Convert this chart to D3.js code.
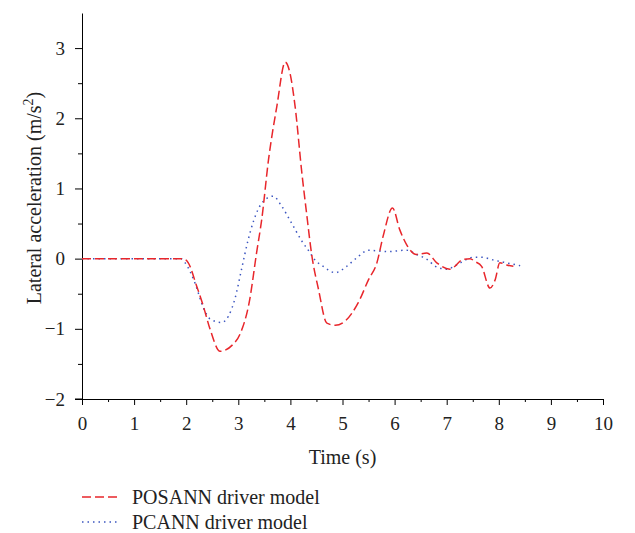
<!DOCTYPE html>
<html>
<head>
<meta charset="utf-8">
<script src="https://cdn.jsdelivr.net/npm/d3@7"></script>
<style>
  body { margin: 0; background: #fff; }
  text { font-family: "Liberation Serif", "DejaVu Serif", serif; }
</style>
</head>
<body>
<div class="chart"></div>
<script>
// time (s) and lateral acceleration (m/s^2)
var posannT = [0, 1.0, 1.94, 2.04, 2.2, 2.33, 2.46, 2.65, 2.9, 3.03, 3.22, 3.35, 3.45, 3.58, 3.74, 3.9, 3.99, 4.09, 4.22, 4.31, 4.41, 4.54, 4.7, 4.86, 5.05, 5.3, 5.5, 5.66, 5.78, 5.96, 6.1, 6.23, 6.42, 6.62, 6.81, 7.06, 7.32, 7.45, 7.54, 7.67, 7.83, 7.93, 8.02, 8.15, 8.28];
var posannV = [0, 0, 0, -0.06, -0.39, -0.68, -1.01, -1.32, -1.22, -1.08, -0.58, 0.08, 0.56, 1.41, 2.17, 2.8, 2.65, 2.17, 1.22, 0.65, 0.05, -0.44, -0.92, -0.95, -0.89, -0.63, -0.3, -0.06, 0.32, 0.72, 0.41, 0.2, 0.06, 0.08, -0.06, -0.15, -0.01, 0, -0.04, -0.11, -0.42, -0.3, -0.06, -0.09, -0.11];

var pcannT = [0, 1.0, 1.9, 1.98, 2.17, 2.33, 2.46, 2.68, 2.81, 2.94, 3.06, 3.19, 3.29, 3.45, 3.67, 3.83, 4.02, 4.22, 4.38, 4.44, 4.63, 4.86, 5.08, 5.27, 5.5, 5.85, 6.23, 6.42, 6.62, 6.81, 7.0, 7.26, 7.51, 7.67, 7.9, 8.15, 8.41];
var pcannV = [0, 0, 0, -0.06, -0.35, -0.7, -0.86, -0.91, -0.82, -0.56, -0.16, 0.27, 0.53, 0.79, 0.89, 0.75, 0.51, 0.25, 0.08, 0.01, -0.11, -0.2, -0.11, 0.01, 0.12, 0.1, 0.12, 0.06, -0.01, -0.12, -0.15, -0.06, 0.02, 0.02, -0.02, -0.06, -0.1];

var xTicks = [0, 1, 2, 3, 4, 5, 6, 7, 8, 9, 10];
var yTicks = [-2, -1, 0, 1, 2, 3];
var seriesNames = ["POSANN driver model", "PCANN driver model"];

var svgWidth = 635;
var svgHeight = 533;
var margin = { top: 13, right: 32, bottom: 134, left: 82 };
var width = svgWidth - margin.left - margin.right;
var height = svgHeight - margin.top - margin.bottom;

var red = "#e8262b";
var blue = "#3b55c0";

var svg = d3.select(".chart")
  .append("svg")
  .attr("width", svgWidth)
  .attr("height", svgHeight);

var chartGroup = svg.append("g")
  .attr("transform", `translate(${margin.left}, ${margin.top})`);

var x = d3.scaleLinear().domain([0, 10]).range([0, width]);
var y = d3.scaleLinear().domain([-2, 3.5]).range([height, 0]);

// minor ticks
chartGroup.append("g")
  .attr("transform", `translate(0, ${height})`)
  .call(d3.axisBottom(x).tickValues(d3.range(0.5, 10, 1)).tickSize(3).tickFormat(""))
  .call(g => g.select(".domain").remove());
chartGroup.append("g")
  .call(d3.axisLeft(y).tickValues(d3.range(-1.5, 3.5, 1)).tickSize(4).tickFormat(""))
  .call(g => g.select(".domain").remove());

var bottomAxis = d3.axisBottom(x).tickValues(xTicks).tickSize(6).tickSizeOuter(0).tickPadding(12);
var leftAxis = d3.axisLeft(y).tickValues(yTicks).tickSize(7).tickSizeOuter(0).tickPadding(10)
  .tickFormat(d => d < 0 ? "\u2212" + Math.abs(d) : d);

chartGroup.append("g")
  .attr("transform", `translate(0, ${height})`)
  .call(bottomAxis)
  .call(g => g.selectAll("text").style("font-size", "19px").attr("fill", "#222"));

chartGroup.append("g")
  .call(leftAxis)
  .call(g => g.selectAll("text").style("font-size", "19px").attr("fill", "#222"));

// small extension of x axis to the left of y axis
chartGroup.append("line")
  .attr("x1", -7).attr("x2", 0)
  .attr("y1", height).attr("y2", height)
  .attr("stroke", "#000");

var line = d3.line()
  .x(d => x(d[0]))
  .y(d => y(d[1]))
  .curve(d3.curveMonotoneX);

chartGroup.append("path")
  .datum(d3.zip(pcannT, pcannV))
  .attr("d", line)
  .attr("fill", "none")
  .attr("stroke", blue)
  .attr("stroke-width", 1.5)
  .attr("stroke-dasharray", "1.5,4");

chartGroup.append("path")
  .datum(d3.zip(posannT, posannV))
  .attr("d", line)
  .attr("fill", "none")
  .attr("stroke", red)
  .attr("stroke-width", 1.5)
  .attr("stroke-dasharray", "9,4");

// axis titles
chartGroup.append("text")
  .attr("x", width / 2)
  .attr("y", 451)
  .attr("text-anchor", "middle")
  .style("font-size", "20px")
  .attr("fill", "#222")
  .text("Time (s)");

var yTitle = chartGroup.append("text")
  .attr("transform", `translate(${-41}, ${185}) rotate(-90)`)
  .attr("text-anchor", "middle")
  .style("font-size", "20px")
  .attr("fill", "#222");
yTitle.append("tspan").text("Lateral acceleration (m/s");
yTitle.append("tspan").attr("dy", -8).style("font-size", "14px").text("2");
yTitle.append("tspan").attr("dy", 8).text(")");

// legend
var legend = svg.append("g").attr("transform", "translate(82, 497)");
var legendStyles = [
  { color: red, dash: "9,4" },
  { color: blue, dash: "1.5,4" }
];
seriesNames.forEach(function(name, i) {
  var g = legend.append("g").attr("transform", `translate(0, ${i * 25})`);
  g.append("line")
    .attr("x1", 0).attr("x2", 36)
    .attr("stroke", legendStyles[i].color)
    .attr("stroke-width", 1.5)
    .attr("stroke-dasharray", legendStyles[i].dash);
  g.append("text")
    .attr("x", 50)
    .attr("dy", "0.35em")
    .style("font-size", "20px")
    .attr("fill", "#222")
    .text(name);
});
</script>
</body>
</html>
